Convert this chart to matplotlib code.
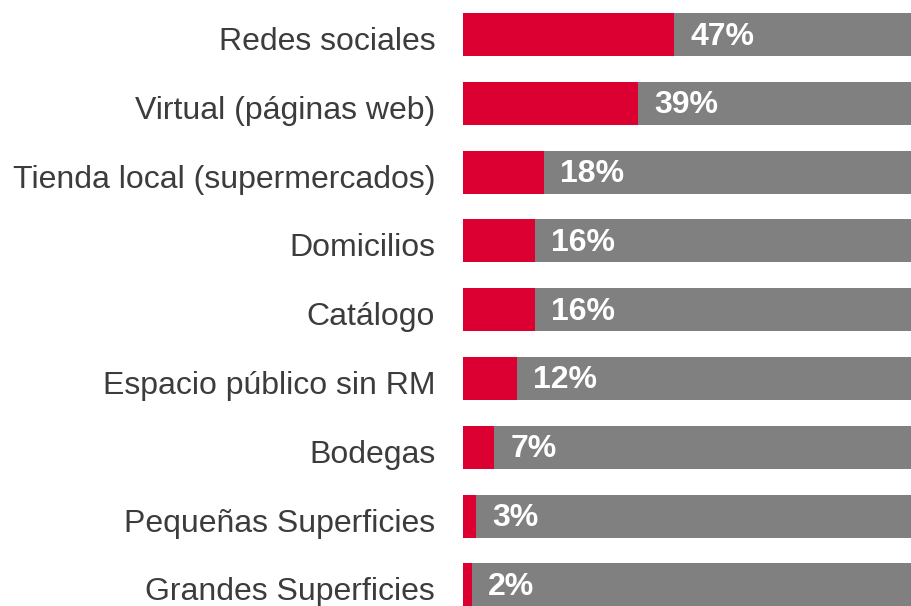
import matplotlib
matplotlib.use("Agg")
import matplotlib.pyplot as plt
from matplotlib.transforms import ScaledTranslation

categories = ["Redes sociales", "Virtual (páginas web)", "Tienda local (supermercados)",
              "Domicilios", "Catálogo", "Espacio público sin RM", "Bodegas",
              "Pequeñas Superficies", "Grandes Superficies"]
values = [47, 39, 18, 16, 16, 12, 7, 3, 2]
total = 100

plt.rcParams['font.family'] = ['Liberation Sans', 'DejaVu Sans']

fig = plt.figure(figsize=(9.12, 6.06), dpi=100)
ax = fig.add_axes([463/912, 0, 1 - 463/912, 1])

RED = "#DC0032"
GREY = "#808080"
TEXT = "#3C3C3C"

ys = list(range(len(categories)))
h = 0.625
ax.barh(ys, [total] * len(values), height=h, color=GREY, edgecolor="none")
ax.barh(ys, values, height=h, color=RED, edgecolor="none")

for y, v in zip(ys, values):
    ax.annotate(f"{v}%", xy=(v, y), xytext=(16, -2), textcoords="offset pixels",
                ha="left", va="center", color="white", fontsize=23, fontweight="bold")

ax.set_xlim(0, 100)
ax.set_ylim(8.307, -0.5015)
ax.set_yticks(ys)
ax.set_yticklabels(categories, fontsize=23, color=TEXT)
ax.tick_params(axis="y", length=0, pad=20)
ax.set_xticks([])
for lab in ax.get_yticklabels():
    lab.set_transform(lab.get_transform() + ScaledTranslation(0, -4/100, fig.dpi_scale_trans))
for s in ax.spines.values():
    s.set_visible(False)

fig.savefig("out.png", dpi=100)
